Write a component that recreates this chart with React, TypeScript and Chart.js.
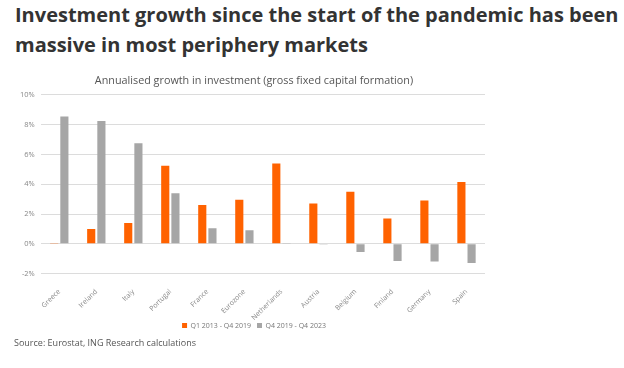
import React, { useEffect, useRef } from "react";
import { Chart, registerables } from "chart.js";

Chart.register(...registerables);

const categories = ["Greece", "Ireland", "Italy", "Portugal", "France", "Eurozone", "Netherlands", "Austria", "Belgium", "Finland", "Germany", "Spain"];
const preCovid = [0.05, 1.0, 1.4, 5.25, 2.6, 2.95, 5.4, 2.7, 3.5, 1.7, 2.9, 4.15];
const postCovid = [8.55, 8.25, 6.75, 3.4, 1.05, 0.9, 0.05, -0.05, -0.55, -1.15, -1.2, -1.3];
const seriesNames = ["Q1 2013 - Q4 2019", "Q4 2019 - Q4 2023"];
const yTicks = [-2, 0, 2, 4, 6, 8, 10];

const titleLines = ["Investment growth since the start of the pandemic has been", "massive in most periphery markets"];
const subtitle = "Annualised growth in investment (gross fixed capital formation)";
const source = "Source: Eurostat, ING Research calculations";

const shiftBoxes = {
  id: "shiftBoxes",
  afterLayout(chart: any) {
    const dx = 4.5;
    const dy = -12;
    for (const b of [chart.legend, chart.titleBlock]) {
      if (b) {
        b.left += dx;
        b.right += dx;
      }
    }
    if (chart.legend) {
      chart.legend.top += dy;
      chart.legend.bottom += dy;
      if (chart.legend.legendHitBoxes) {
        chart.legend.legendHitBoxes.forEach((h: any) => {
          h.left += dx;
          h.top += dy;
        });
      }
    }
  },
};

export default function App() {
  const ref = useRef<HTMLCanvasElement | null>(null);
  useEffect(() => {
    if (!ref.current) return;
    const chart = new Chart(ref.current, {
      type: "bar",
      data: {
        labels: categories,
        datasets: [
          { label: seriesNames[0], data: preCovid, backgroundColor: "#FF6200", categoryPercentage: 0.55, barPercentage: 0.8 },
          { label: seriesNames[1], data: postCovid, backgroundColor: "#A6A6A6", categoryPercentage: 0.55, barPercentage: 0.8 },
        ],
      },
      plugins: [shiftBoxes],
      options: {
        responsive: false,
        animation: false,
        maintainAspectRatio: false,
        layout: { padding: { left: 14, right: 21, top: 0, bottom: 0 } },
        plugins: {
          title: {
            display: true,
            text: subtitle,
            color: "#555",
            font: { family: "Open Sans", size: 10.8, weight: "normal" },
            padding: { top: 12, bottom: 8 },
          },
          legend: {
            position: "bottom",
            labels: {
              boxWidth: 5,
              boxHeight: 5,
              color: "#777",
              font: { family: "Open Sans", size: 7 },
              padding: 6,
            },
          },
          tooltip: { enabled: false },
        },
        scales: {
          x: {
            grid: { display: false },
            border: { display: false },
            ticks: {
              color: "#888",
              font: { family: "Open Sans", size: 7 },
              minRotation: 45,
              maxRotation: 45,
              autoSkip: false,
              padding: 6,
            },
          },
          y: {
            min: -2,
            max: 10,
            afterBuildTicks: (axis: any) => {
              axis.ticks = yTicks.map((v) => ({ value: v }));
            },
            grid: { color: "#DCDCDC", drawTicks: false, lineWidth: 1 },
            border: { display: false },
            ticks: {
              color: "#888",
              font: { family: "Open Sans", size: 7.5 },
              padding: 6,
              callback: (v: any) => `${v}%`,
            },
          },
        },
      },
    });
    return () => chart.destroy();
  }, []);

  return (
    <div style={{ position: "fixed", left: 0, top: 0, width: 624, height: 368, background: "#fff", overflow: "hidden" }}>
      <div
        style={{
          position: "absolute",
          left: 15,
          top: 0,
          fontFamily: "Open Sans",
          fontWeight: 700,
          fontSize: 20,
          lineHeight: "30px",
          color: "#333",
          whiteSpace: "nowrap",
        }}
      >
        {titleLines.map((l, i) => (
          <div key={i}>{l}</div>
        ))}
      </div>
      <canvas ref={ref} width={506} height={289} style={{ position: "absolute", left: 0, top: 62, width: 506, height: 289 }} />
      <div
        style={{
          position: "absolute",
          left: 14,
          top: 336,
          fontFamily: "Open Sans",
          fontSize: 9,
          color: "#555",
          whiteSpace: "nowrap",
        }}
      >
        {source}
      </div>
    </div>
  );
}
